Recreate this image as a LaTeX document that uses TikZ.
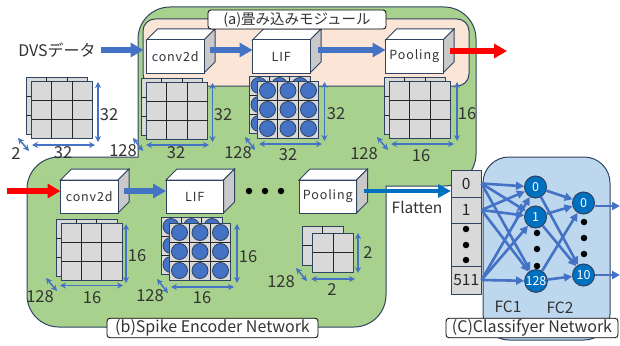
\documentclass[tikz,border=0pt]{standalone}
\usepackage{fontspec}
\setmainfont{Noto Sans CJK JP}
\newfontfamily\blockfont[LetterSpace=7]{Noto Sans CJK JP}
\usetikzlibrary{arrows.meta}

\definecolor{edgeblue}{HTML}{2F4460}
\definecolor{flowblue}{HTML}{4472C4}
\definecolor{deepblue}{HTML}{0070C0}
\definecolor{panelgreen}{HTML}{A9D18E}
\definecolor{panelsalmon}{HTML}{FBE5D6}
\definecolor{panelblue}{HTML}{BDD7EE}
\definecolor{cellgray}{HTML}{D9D9D9}
\definecolor{sidegray}{HTML}{C9C9C9}

\tikzset{
	panel/.style={draw=edgeblue,line width=1pt},
	caption/.style={draw=black,fill=white,rounded corners=3pt,line width=.8pt,inner sep=0pt,text=black!80,font=\fontsize{16}{16}\selectfont},
	blockface/.style={draw=edgeblue,fill=white,line width=1pt,minimum width=57.5pt,minimum height=33pt,inner sep=0pt,outer sep=0pt,anchor=north west,text=black!80,font=\fontsize{12.5}{13}\blockfont},
	flow/.style={flowblue,line width=5.5pt,-{Triangle[length=13pt,width=14pt]}},
	hot/.style={red,line width=5.5pt,-{Triangle[length=13pt,width=14pt]}},
	dimen/.style={flowblue,line width=1.5pt,{Stealth[length=6pt,width=6pt]}-{Stealth[length=6pt,width=6pt]}},
	sizelabel/.style={inner sep=0pt,font=\fontsize{16.5}{17}\selectfont,text=black!80},
	cell/.style={draw=edgeblue,fill=cellgray,line width=1pt,minimum width=30.5pt,inner sep=0pt,outer sep=0pt,font=\fontsize{15.5}{16}\selectfont,text=black!85},
	neuron/.style={circle,draw=edgeblue,fill=deepblue,line width=1pt,minimum size=22pt,inner sep=0pt,text=white,font=\fontsize{12.5}{13}\selectfont},
	link/.style={flowblue,line width=2.6pt,-{Triangle[length=8pt,width=8pt]}},
	blackdot/.style={circle,fill=black,inner sep=0pt,minimum size=6.5pt}
}

% one block: name, left, top, text
\newcommand{\boxblock}[4]{
	\draw [panel,fill=white] (#2,#3) -- ++(11,-11) -- ++(57.5,0) -- ++(-11,11) -- cycle;
	\draw [panel,fill=sidegray] (#2+57.5,#3) -- ++(11,-11) -- ++(0,33) -- ++(-11,11) -- cycle;
	\node [blockface] (#1) at (#2,#3) {#4};
}
% one sheet of cells: left, top, width, height, cells per side
\newcommand{\sheet}[5]{
	\draw [draw=edgeblue,fill=cellgray,line width=1pt] (#1,#2) rectangle ++(#3,#4);
	\foreach \k in {2,...,#5} {
		\draw [black!85,line width=.9pt] (#1+#3*\k/#5-#3/#5,#2) -- ++(0,#4);
		\draw [black!85,line width=.9pt] (#1,#2+#4*\k/#5-#4/#5) -- ++(#3,0);
	}
}
% the same sheet with a spike in each cell
\newcommand{\spikes}[2]{
	\sheet{#1}{#2}{61}{57}{3}
	\foreach \i in {0,1,2} \foreach \j in {0,1,2}
		\fill [flowblue,draw=edgeblue,line width=.8pt] (#1+10+\i*20.5,#2+9.5+\j*19) circle (8pt);
}

\begin{document}
\begin{tikzpicture}[x=1pt,y=-1pt]
	\useasboundingbox (0,0) rectangle (620,345);

	% the panels behind everything
	\draw [panel,fill=panelgreen] (138,157) [rounded corners=32pt] -- (138,7) -- (476,7) -- (476,186) [sharp corners] -- (386,186) [rounded corners=32pt] -- (386,327) -- (27,327) -- (27,157) [sharp corners] -- cycle;
	\draw [panel,fill=panelsalmon,rounded corners=12pt] (143,19) rectangle (469,86);
	\draw [panel,fill=panelblue,rounded corners=26pt] (483,157) rectangle (610,340);

	% the blocks of the two rows
	\boxblock{convA}{146.5}{40}{conv2d}
	\boxblock{lifA}{252.5}{40}{LIF}
	\boxblock{poolA}{385.5}{40}{Pooling}
	\boxblock{convB}{60.5}{180}{conv2d}
	\boxblock{lifB}{166}{180}{LIF}
	\boxblock{poolB}{299}{180}{Pooling}

	% the feature maps under them
	\foreach \px/\py in {31.5/81,146.5/82,389.5/81,61/223} {
		\sheet{\px-5}{\py-4}{61}{57}{3}
		\sheet{\px}{\py}{61}{57}{3}
	}
	\spikes{249}{76}
	\spikes{257.5}{81}
	\spikes{161}{217}
	\spikes{169.5}{223}
	\sheet{302}{226}{41}{39}{2}
	\sheet{312.5}{233}{41}{39}{2}

	% size marks: first end, second end
	\foreach \ax/\ay/\bx/\by [count=\n] in {
		98/82/98/142, 32/145/95/145, 18/138/29/151,
		212.5/83/212.5/142, 146/145/209/145, 133/138/143/151,
		324.5/82/324.5/141, 259/144/322/144, 245/137/255/150,
		457/82/457/141, 391/144/454/144, 377/137/388/150,
		126/224/126/283, 60/285.5/123/285.5, 46/278/57/291,
		237/224/237/283, 171/287/234/287, 157/279/168/293,
		358/233/358/273, 311/279/355/279, 296/268/307/281} {
		\coordinate (dimA\n) at (\ax,\ay);
		\coordinate (dimB\n) at (\bx,\by);
		\draw [dimen] (dimA\n) -- (dimB\n);
	}
	\foreach \px/\py/\txt [count=\n] in {
		109/115/32, 63/153/32, 16/154/2,
		223/115/32, 176/153/32, 123/151/128,
		336/114/32, 288/155/32, 238/153/128,
		467/114/16, 421/156/16, 364/154/128,
		137/256/16, 92/298/16, 40/297/128,
		248/257/16, 202/298/16, 150/296/128,
		368/253/2, 332/290/2, 281/282/128} {
		\node [sizelabel] (size\n) at (\px,\py) {\txt};
	}

	% the flow through the upper row
	\node [inner sep=0pt,font=\fontsize{16}{16}\selectfont,text=black!80] (dvs) at (57,50) {DVSデータ};
	\coordinate (outA) at (507,51);
	\draw [flow] ([xshift=5pt]dvs.east) -- ([xshift=-3pt]convA.west |- dvs.east);
	\draw [flow] ([xshift=6pt,yshift=6.5pt]convA.east) -- ([yshift=6.5pt]lifA.west);
	\draw [flow] ([xshift=8pt,yshift=6.5pt]lifA.east) -- ([yshift=6.5pt]poolA.west);
	\draw [hot] ([xshift=7pt,yshift=5.5pt]poolA.east) -- (outA);

	% the flow through the lower row
	\coordinate (inB) at (7,191);
	\draw [hot] (inB) -- (convB.west |- inB);
	\draw [flow] ([xshift=6pt,yshift=5.5pt]convB.east) -- ([yshift=5.5pt]lifB.west);
	\foreach \px [count=\n] in {249,265,281}
		\node [blackdot] (gapdot\n) at (\px,191) {};

	% the flattened vector
	\node [cell,minimum height=27pt,anchor=north west] (item0) at (451,170) {0};
	\node [cell,minimum height=26pt,anchor=north] (item1) at (item0.south) {1};
	\node [cell,minimum height=43pt,anchor=north] (itemdots) at (item1.south) {};
	\node [cell,minimum height=28pt,anchor=north] (item511) at (itemdots.south) {511};
	\foreach \py [count=\n] in {229,245,260}
		\node [blackdot] (itemdot\n) at (466,\py) {};
	\draw [deepblue,line width=4.5pt,-{Triangle[length=13pt,width=13pt]}] ([xshift=7pt,yshift=5.5pt]poolB.east) -- ([yshift=5.5pt]poolB.east -| item0.west);
	\node [sizelabel,font=\fontsize{15.5}{16}\selectfont] (flatten) at (417,207) {Flatten};

	% the two layers of the classifier
	\node [neuron] (hid0) at (535.5,187) {0};
	\node [neuron] (hid1) at (535.5,217) {1};
	\node [neuron] (hid128) at (536,281) {128};
	\node [neuron] (res0) at (583.5,203) {0};
	\node [neuron] (res10) at (583.5,275) {10};
	\foreach \a in {item0,item1,item511}
		\foreach \b in {hid0,hid1,hid128}
			\draw [link] (\a.east) -- (\b);
	\foreach \a in {hid0,hid1,hid128}
		\foreach \b in {res0,res10}
			\draw [link] (\a) -- (\b);
	\coordinate (outC) at (620,206);
	\coordinate (outD) at (620,275);
	\draw [link] (res0.east |- outC) -- (outC);
	\draw [link] (res10.east |- outD) -- (outD);
	\foreach \py [count=\n] in {233,249,266}
		\node [blackdot] (hiddot\n) at (537,\py) {};
	\foreach \py [count=\n] in {222,238,254}
		\node [blackdot] (resdot\n) at (584,\py) {};
	\node [sizelabel,font=\fontsize{15.5}{16}\selectfont] (fcone) at (508,307) {FC1};
	\node [sizelabel,font=\fontsize{15.5}{16}\selectfont] (fctwo) at (560,308) {FC2};

	% the captions on top
	\node [caption,minimum width=178pt,minimum height=19pt,font=\fontsize{14.5}{15}\selectfont] (capA) at (297,19.5) {(a)畳み込みモジュール};
	\node [caption,minimum width=211pt,minimum height=19.5pt] (capB) at (212.5,328) {(b)Spike Encoder Network};
	\node [caption,minimum width=172pt,minimum height=19.5pt] (capC) at (532,328) {(C)Classifyer Network};
\end{tikzpicture}
\end{document}
